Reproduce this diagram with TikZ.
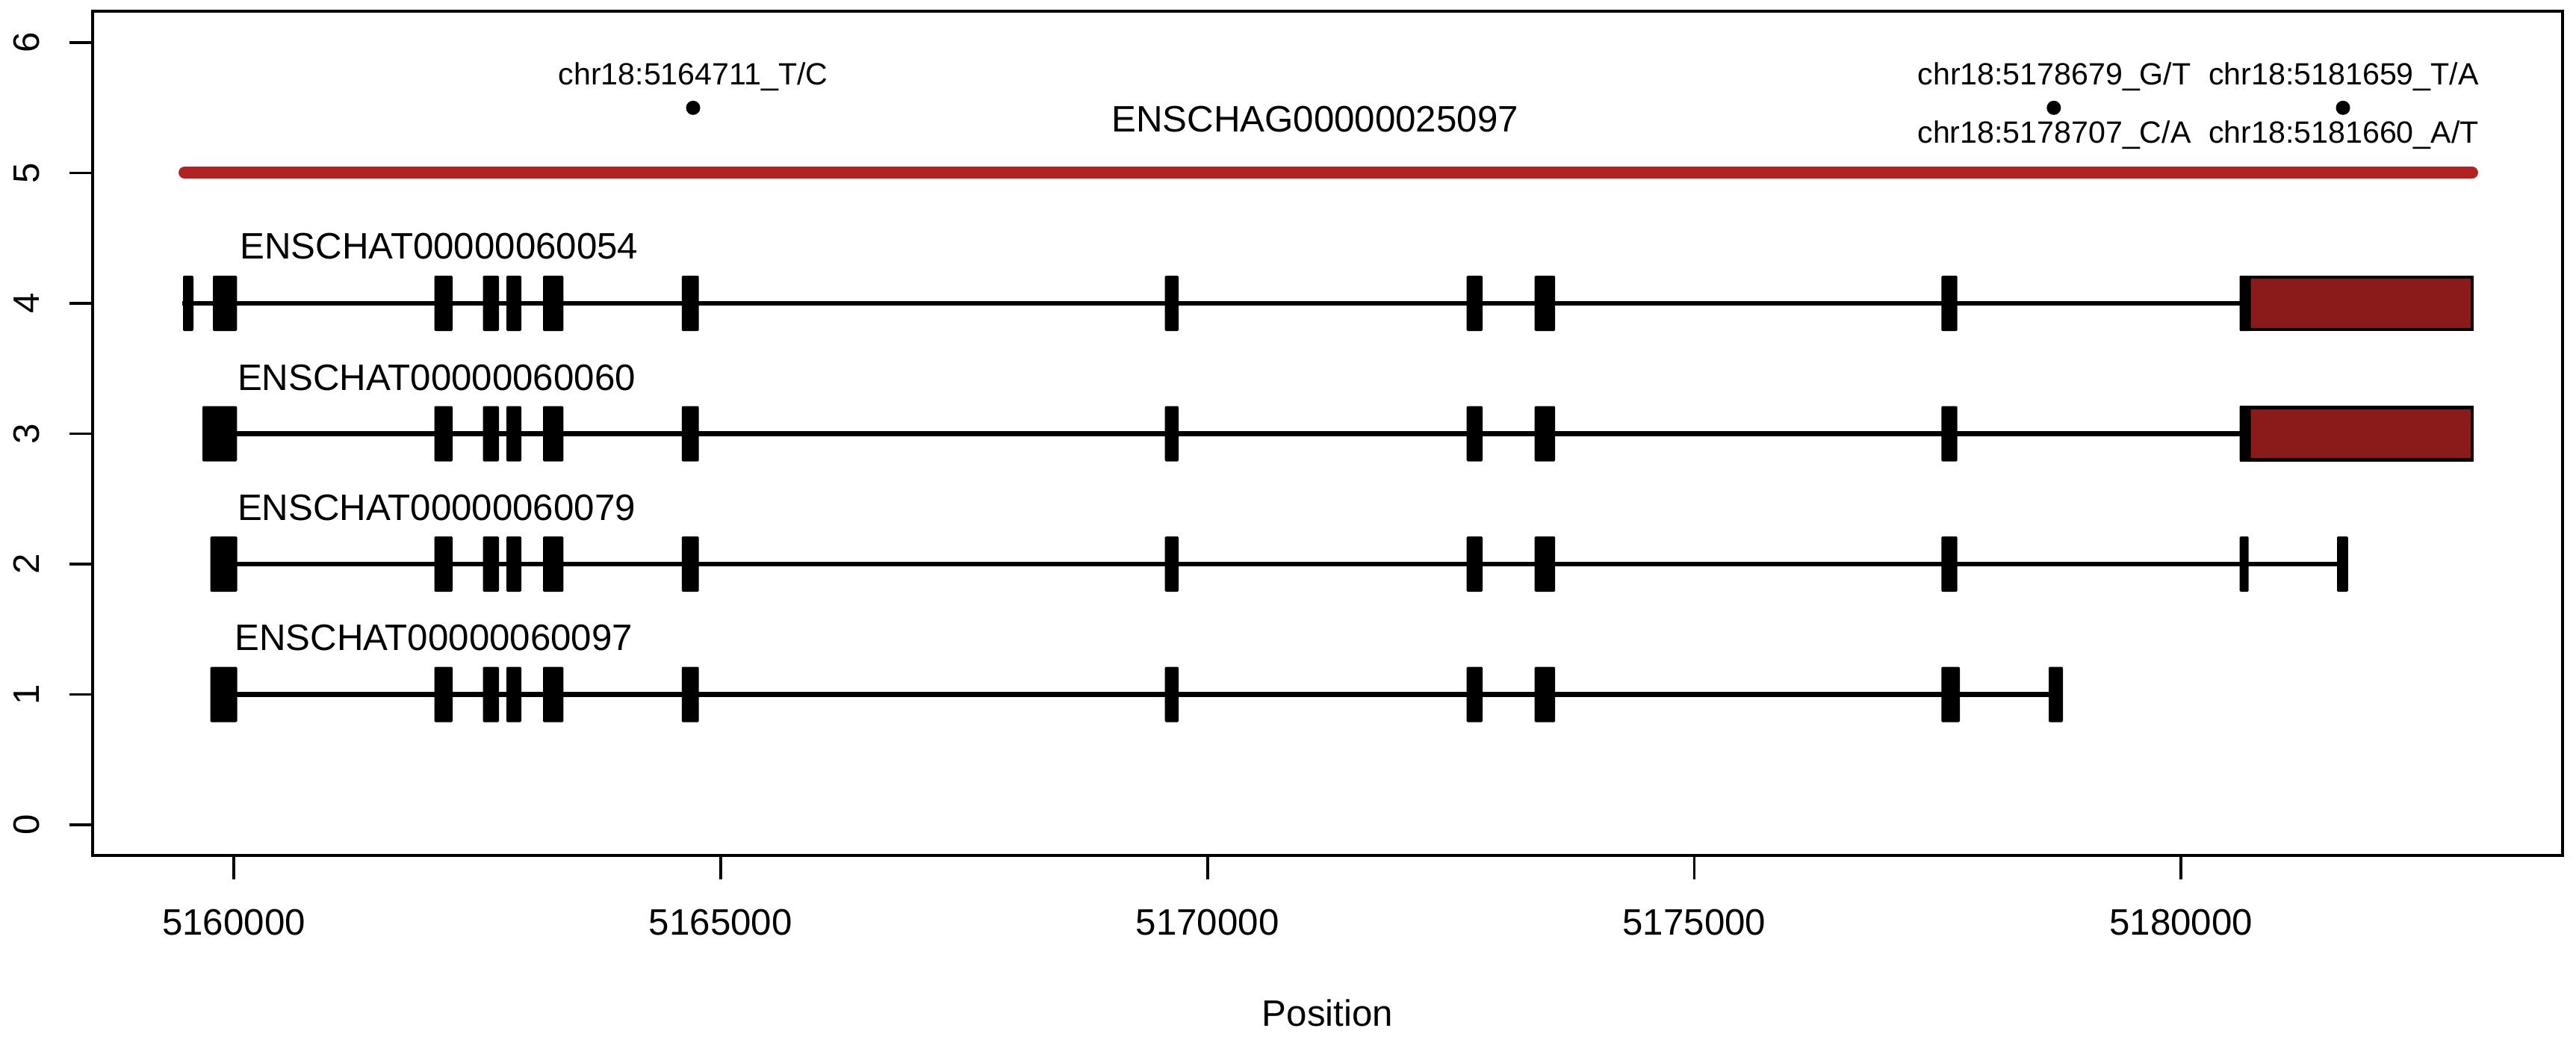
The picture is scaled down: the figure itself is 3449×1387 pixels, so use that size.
\documentclass[tikz,border=0pt]{standalone}
\usepackage{fontspec}
\setmainfont{Liberation Sans}
\definecolor{genered}{HTML}{B22222}
\definecolor{utrred}{HTML}{8B1A1A}
\begin{document}
\begin{tikzpicture}[x=0.01cm,y=-0.01cm,
  axisline/.style={line width=1.1pt},
  intron/.style={line width=1.75pt},
  exonbox/.style={fill=black, rounded corners=0.4pt},
  utrbox/.style={fill=utrred, draw=black, line width=1.15pt},
  bigtext/.style={font=\fontsize{14pt}{16pt}\selectfont, inner sep=0pt, anchor=base},
  snptext/.style={font=\fontsize{11.7pt}{14pt}\selectfont, inner sep=0pt, anchor=base}]
\useasboundingbox (0,0) rectangle (3449,1387);

% plot frame
\draw[axisline] (124.3,15) rectangle (3431,1145);

% y axis ticks and labels
\foreach \v in {0,...,6} {
  \draw[axisline] (93,{1104-174.5*\v}) -- (124.3,{1104-174.5*\v});
  \node[bigtext, rotate=90] (ylab\v) at (52.7,{1104-174.5*\v}) {\v};
}
% x axis ticks and labels
\foreach \k/\lab in {0/5160000,1/5165000,2/5170000,3/5175000,4/5180000} {
  \draw[axisline] ({313+651.8*\k},1145) -- ({313+651.8*\k},1177);
  \node[bigtext] (xlab\k) at ({313+651.8*\k},1251.7) {\lab};
}
\node[bigtext] (xtitle) at (1777.5,1373.3) {Position};

% gene
\draw[line width=4.47pt, genered, line cap=round] (247,231) -- (3310,231);
\node[bigtext] (gene) at (1760.6,176) {ENSCHAG00000025097};

% SNPs
\fill (928,144.3) circle (9.5);
\fill (2749.8,144.3) circle (9.5);
\fill (3137,144.3) circle (9.5);
\node[snptext] (s1) at (928,113.3) {chr18:5164711\_T/C};
\node[snptext] (s2) at (2750.5,113.3) {chr18:5178679\_G/T};
\node[snptext] (s3) at (2750.5,191.7) {chr18:5178707\_C/A};
\node[snptext] (s4) at (3138,113.3) {chr18:5181659\_T/A};
\node[snptext] (s5) at (3138,191.7) {chr18:5181660\_A/T};

% transcripts
\def\common{581.5/606, 646.5/668, 678/698, 727/754.4, 912.8/935.7, 1559.6/1578, 1963.6/1985, 2054.6/2082.2}

% row 4
\draw[intron] (244,406) -- (3311,406);
\foreach \a/\b in \common {\fill[exonbox] (\a,369) rectangle (\b,443);}
\foreach \a/\b in {245/259, 285/317.3, 2599.3/2620.7} {\fill[exonbox] (\a,369) rectangle (\b,443);}
\draw[utrbox] (3000.5,371) rectangle (3309.5,441);
\fill[exonbox] (2998.5,369) rectangle (3013.5,443);
\node[bigtext] (t4) at (588,346) {ENSCHAT00000060054};

% row 3
\draw[intron] (271,580.5) -- (3311,580.5);
\foreach \a/\b in \common {\fill[exonbox] (\a,543.5) rectangle (\b,617.5);}
\foreach \a/\b in {271/317.3, 2599.3/2620.7} {\fill[exonbox] (\a,543.5) rectangle (\b,617.5);}
\draw[utrbox] (3000.5,545.5) rectangle (3309.5,615.5);
\fill[exonbox] (2998.5,543.5) rectangle (3013.5,617.5);
\node[bigtext] (t3) at (584.5,522) {ENSCHAT00000060060};

% row 2
\draw[intron] (281.6,755) -- (3144,755);
\foreach \a/\b in \common {\fill[exonbox] (\a,718) rectangle (\b,792);}
\foreach \a/\b in {281.6/317.5, 2599.3/2620.7, 2998.7/3010.7, 3129/3143.8} {\fill[exonbox] (\a,718) rectangle (\b,792);}
\node[bigtext] (t2) at (584.5,696.4) {ENSCHAT00000060079};

% row 1
\draw[intron] (281.6,929.5) -- (2762,929.5);
\foreach \a/\b in \common {\fill[exonbox] (\a,892.5) rectangle (\b,966.5);}
\foreach \a/\b in {281.6/317.5, 2599.3/2624, 2743/2762} {\fill[exonbox] (\a,892.5) rectangle (\b,966.5);}
\node[bigtext] (t1) at (580.7,870.8) {ENSCHAT00000060097};
\end{tikzpicture}
\end{document}
